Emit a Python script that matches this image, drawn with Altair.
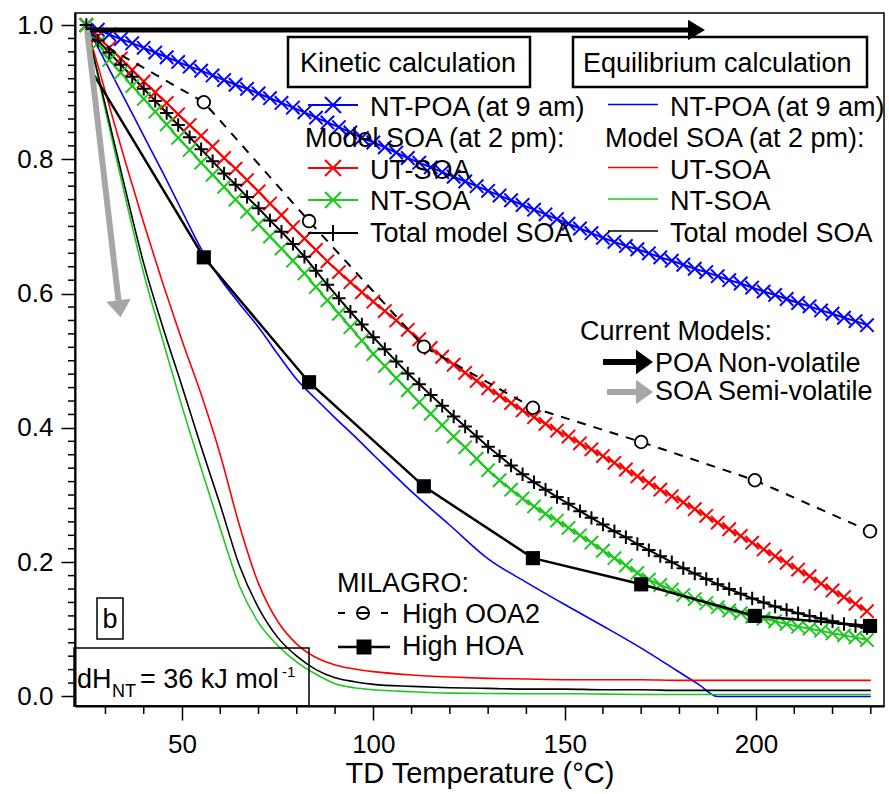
import altair as alt
import pandas as pd

FONT = "Liberation Sans"

# ---------------- data ----------------
T_KIN = [25, 28, 31, 34, 37, 40, 43, 46, 49, 52,
         55, 58, 61, 64, 67, 70, 73, 76, 79, 82,
         85, 88, 91, 94, 97, 100, 103, 106, 109, 112,
         115, 118, 121, 124, 127, 130, 133, 136, 139, 142,
         145, 148, 151, 154, 157, 160, 163, 166, 169, 172,
         175, 178, 181, 184, 187, 190, 193, 196, 199, 202,
         205, 208, 211, 214, 217, 220, 223, 226, 229]

KIN_NT_POA = [1.000, 0.993, 0.986, 0.979, 0.973, 0.966, 0.959, 0.952, 0.945, 0.938,
              0.932, 0.925, 0.918, 0.911, 0.905, 0.898, 0.891, 0.884, 0.877, 0.870,
              0.862, 0.855, 0.848, 0.840, 0.832, 0.825, 0.818, 0.810, 0.802, 0.795,
              0.788, 0.781, 0.774, 0.767, 0.760, 0.753, 0.746, 0.739, 0.732, 0.725,
              0.718, 0.711, 0.704, 0.697, 0.690, 0.683, 0.677, 0.671, 0.666, 0.660,
              0.654, 0.649, 0.643, 0.637, 0.632, 0.626, 0.620, 0.615, 0.609, 0.603,
              0.598, 0.592, 0.586, 0.581, 0.575, 0.570, 0.564, 0.559, 0.553]

KIN_UT_SOA = [1.000, 0.983, 0.966, 0.950, 0.933, 0.916, 0.900, 0.884, 0.867, 0.851,
              0.835, 0.819, 0.802, 0.786, 0.769, 0.752, 0.734, 0.717, 0.699, 0.682,
              0.665, 0.648, 0.632, 0.617, 0.602, 0.588, 0.574, 0.560, 0.546, 0.532,
              0.519, 0.506, 0.494, 0.482, 0.470, 0.459, 0.448, 0.437, 0.426, 0.416,
              0.406, 0.396, 0.387, 0.377, 0.368, 0.358, 0.348, 0.338, 0.328, 0.318,
              0.308, 0.298, 0.289, 0.279, 0.269, 0.259, 0.249, 0.239, 0.229, 0.219,
              0.209, 0.199, 0.189, 0.179, 0.168, 0.158, 0.148, 0.138, 0.127]

KIN_NT_SOA = [1.000, 0.973, 0.948, 0.929, 0.909, 0.890, 0.871, 0.852, 0.832, 0.814,
              0.795, 0.777, 0.759, 0.740, 0.722, 0.703, 0.685, 0.667, 0.649, 0.630,
              0.610, 0.590, 0.570, 0.550, 0.530, 0.510, 0.492, 0.474, 0.456, 0.438,
              0.421, 0.404, 0.387, 0.371, 0.354, 0.337, 0.322, 0.308, 0.295, 0.283,
              0.272, 0.262, 0.251, 0.240, 0.229, 0.217, 0.206, 0.195, 0.184, 0.174,
              0.166, 0.159, 0.151, 0.145, 0.139, 0.133, 0.128, 0.124, 0.119, 0.116,
              0.112, 0.108, 0.104, 0.101, 0.098, 0.094, 0.091, 0.088, 0.084]

KIN_TOTAL = [1.000, 0.977, 0.959, 0.941, 0.923, 0.905, 0.887, 0.869, 0.851, 0.833,
             0.815, 0.797, 0.779, 0.762, 0.744, 0.727, 0.709, 0.692, 0.674, 0.655,
             0.634, 0.613, 0.593, 0.573, 0.554, 0.535, 0.517, 0.499, 0.481, 0.465,
             0.449, 0.433, 0.417, 0.402, 0.387, 0.372, 0.358, 0.344, 0.331, 0.319,
             0.308, 0.297, 0.287, 0.276, 0.266, 0.256, 0.246, 0.237, 0.227, 0.218,
             0.209, 0.200, 0.191, 0.183, 0.175, 0.167, 0.160, 0.153, 0.146, 0.140,
             0.134, 0.129, 0.124, 0.120, 0.116, 0.112, 0.108, 0.105, 0.102]

T_EQ = [25, 30, 35, 40, 45, 50, 55, 60, 65, 70,
        75, 80, 85, 90, 95, 100, 110, 120, 130, 140,
        150, 160, 170, 180, 185, 190, 200, 210, 220, 230]

EQ_NT_POA = [1.0, 0.945, 0.89, 0.835, 0.78, 0.723, 0.667, 0.622, 0.585, 0.55,
             0.51, 0.472, 0.443, 0.415, 0.388, 0.36, 0.305, 0.255, 0.205, 0.17,
             0.137, 0.105, 0.072, 0.036, 0.018, 0.0, 0.0, 0.0, 0.0, 0.0]
EQ_UT_SOA = [1.0, 0.9, 0.8, 0.705, 0.615, 0.53, 0.45, 0.36, 0.255, 0.168,
             0.112, 0.078, 0.058, 0.047, 0.041, 0.037, 0.032, 0.029, 0.027, 0.026,
             0.025, 0.025, 0.025, 0.024, 0.024, 0.024, 0.024, 0.024, 0.024, 0.024]
EQ_NT_SOA = [1.0, 0.873, 0.748, 0.63, 0.53, 0.432, 0.34, 0.25, 0.165, 0.11,
             0.076, 0.051, 0.033, 0.019, 0.013, 0.01, 0.007, 0.005, 0.0045, 0.004,
             0.004, 0.0035, 0.003, 0.003, 0.003, 0.003, 0.003, 0.003, 0.003, 0.003]
EQ_TOTAL = [1.0, 0.88, 0.76, 0.645, 0.55, 0.462, 0.372, 0.285, 0.195, 0.132,
            0.088, 0.06, 0.04, 0.028, 0.022, 0.018, 0.015, 0.013, 0.012, 0.011,
            0.011, 0.010, 0.010, 0.009, 0.009, 0.009, 0.009, 0.009, 0.009, 0.009]

T_HOA = [26, 55.7, 83.2, 113.2, 141.7, 170, 199.7, 229.8]
HOA = [0.935, 0.654, 0.468, 0.313, 0.206, 0.167, 0.12, 0.105]
T_OOA2 = [26.5, 55.7, 83.2, 113.2, 141.7, 170, 199.7, 229.8]
OOA2 = [0.98, 0.885, 0.708, 0.521, 0.430, 0.379, 0.322, 0.246]

SERIES = ["NT-POA", "UT-SOA", "NT-SOA", "Total model SOA"]
COLORS = ["#0000ff", "#ff0000", "#1ec81e", "#000000"]

X_MAJOR = [50, 100, 150, 200]
X_MINOR = [30, 40, 60, 70, 80, 90, 110, 120, 130, 140, 160, 170, 180, 190, 210, 220, 230]
Y_MAJOR = [0.0, 0.2, 0.4, 0.6, 0.8, 1.0]
Y_MINOR = [round(i * 0.02, 2) for i in range(51) if i % 10 != 0]

# ---------------- styles / layout ----------------
X_PATH = "M-1,-1L1,1M-1,1L1,-1"
PLUS_PATH = "M-1,0L1,0M0,-1L0,1"
HEAD_RIGHT = "M-1,-1.2L1,0L-1,1.2Z"
HEAD_RIGHT_BIG = "M-1,-1.45L1,0L-1,1.45Z"
HEAD_DOWN = "M-1.45,-1L0,1L1.45,-1Z"
GRAY = "#a6a6a6"

W, H = 809, 693
OX, OY = 75, 13
XMIN, XMAX = 22.04, 233.45
YMIN, YMAX = -0.0142, 1.0179


def tx(xp):
    return XMIN + (xp - OX) * (XMAX - XMIN) / W


def ty(yp):
    return YMAX - (yp - OY) * (YMAX - YMIN) / H


def long_df(T, lists):
    rows = []
    for name, vals in zip(SERIES, lists):
        for t, v in zip(T, vals):
            rows.append({"T": t, "v": v, "s": name})
    return pd.DataFrame(rows)


kin = long_df(T_KIN, [KIN_NT_POA, KIN_UT_SOA, KIN_NT_SOA, KIN_TOTAL])
eq = long_df(T_EQ, [EQ_NT_POA, EQ_UT_SOA, EQ_NT_SOA, EQ_TOTAL])
hoa = pd.DataFrame({"T": T_HOA, "v": HOA})
ooa = pd.DataFrame({"T": T_OOA2, "v": OOA2})

xs = alt.Scale(domain=[XMIN, XMAX], nice=False, zero=False)
ys = alt.Scale(domain=[YMIN, YMAX], nice=False, zero=False)

X_AXIS = alt.Axis(values=X_MAJOR, tickSize=14, title="TD Temperature (°C)",
                  labelPadding=11, titlePadding=2)
Y_AXIS = alt.Axis(values=Y_MAJOR, format=".1f", tickSize=14, title="", labelPadding=8)


def XF(field):
    return alt.X(field, scale=xs, axis=X_AXIS)


def YF(field):
    return alt.Y(field, scale=ys, axis=Y_AXIS)


color = alt.Color("s:N", scale=alt.Scale(domain=SERIES, range=COLORS), legend=None)
X = XF("T:Q")
Y = YF("v:Q")
X2 = alt.X2("T2:Q")
Y2 = alt.Y2("v2:Q")

eq_lines = alt.Chart(eq).mark_line(strokeWidth=1.6, interpolate="monotone").encode(
    x=X, y=Y, color=color)
kin_lines = alt.Chart(kin).mark_line(strokeWidth=2).encode(x=X, y=Y, color=color)
kin_pts = alt.Chart(kin).mark_point(filled=False, size=180, strokeWidth=2, opacity=1).encode(
    x=X, y=Y, color=color,
    shape=alt.Shape("s:N", scale=alt.Scale(domain=SERIES,
                                           range=[X_PATH, X_PATH, X_PATH, PLUS_PATH]),
                    legend=None),
)
ooa_line = alt.Chart(ooa).mark_line(strokeWidth=2, color="black", strokeDash=[9, 8]).encode(x=X, y=Y)
ooa_pts = alt.Chart(ooa.iloc[1:]).mark_point(
    shape="circle", filled=True, fill="white", stroke="black", strokeWidth=1.8,
    size=160, opacity=1, fillOpacity=1).encode(x=X, y=Y)
hoa_line = alt.Chart(hoa).mark_line(strokeWidth=2.5, color="black").encode(x=X, y=Y)
hoa_pts = alt.Chart(hoa.iloc[1:]).mark_point(
    shape="square", filled=True, color="black", size=200, opacity=1).encode(x=X, y=Y)

# minor ticks of the axes
ymin_ticks = alt.Chart(pd.DataFrame({"v": Y_MINOR})).mark_rule(color="black", strokeWidth=1.5).encode(
    y=Y, x=alt.value(-7), x2=alt.value(0))
xmin_ticks = alt.Chart(pd.DataFrame({"T": X_MINOR})).mark_rule(color="black", strokeWidth=1.5).encode(
    x=X, y=alt.value(H), y2=alt.value(H + 8))

# model arrows
arr_black = pd.DataFrame({"T": [25.2], "v": [0.9926], "T2": [182.3], "v2": [0.9926]})
arr_gray = pd.DataFrame({"T": [25.2], "v": [0.9926], "T2": [33.4], "v2": [0.590]})
black_rule = alt.Chart(arr_black).mark_rule(strokeWidth=5, color="black").encode(x=X, y=Y, x2=X2, y2=Y2)
black_head = alt.Chart(pd.DataFrame({"T": [186.67], "v": [0.9926]})).mark_point(
    shape=HEAD_RIGHT, filled=True, color="black", size=289, opacity=1, xOffset=-8.5
).encode(x=X, y=Y)
gray_rule = alt.Chart(arr_gray).mark_rule(strokeWidth=6, color=GRAY).encode(x=X, y=Y, x2=X2, y2=Y2)
gray_head = alt.Chart(pd.DataFrame({"T": [33.93], "v": [0.565]})).mark_point(
    shape=HEAD_DOWN, filled=True, color=GRAY, size=289, opacity=1, angle=353.4,
    xOffset=-1, yOffset=-8.4
).encode(x=X, y=Y)

# ---------------- legend / annotation panels ----------------
texts = [
    ("Kinetic calculation", 300, 72, 27),
    ("Equilibrium calculation", 583, 72, 27),
    ("NT-POA (at 9 am)", 370, 115.5, 27),
    ("Model SOA (at 2 pm):", 305, 147, 27),
    ("UT-SOA", 370, 178.5, 27),
    ("NT-SOA", 370, 209.5, 27),
    ("Total model SOA", 370, 241.5, 27),
    ("NT-POA (at 9 am)", 670, 115.5, 27),
    ("Model SOA (at 2 pm):", 605, 147, 27),
    ("UT-SOA", 670, 178.5, 27),
    ("NT-SOA", 670, 209.5, 27),
    ("Total model SOA", 670, 241.5, 27),
    ("Current Models:", 580, 340, 27),
    ("POA Non-volatile", 655, 372, 27),
    ("SOA Semi-volatile", 655, 400, 27),
    ("MILAGRO:", 337, 592, 27),
    ("High OOA2", 402, 623, 27),
    ("High HOA", 402, 655, 27),
    ("b", 102.5, 628, 27),
    ("dH", 77, 688, 27),
    ("NT", 112, 697, 18),
    ("= 36 kJ mol", 140, 688, 27),
    ("-1", 282, 677, 15),
]
text_df = pd.DataFrame([{"t": t, "T": tx(x), "v": ty(y), "fs": f} for t, x, y, f in texts])
text_layer = alt.Chart(text_df).mark_text(align="left", baseline="alphabetic", font=FONT,
                                          color="black").encode(
    x=X, y=Y, text="t:N", size=alt.Size("fs:Q", scale=None, legend=None))

boxes = [(288, 530, 37, 87, 2.5), (573, 867, 37, 87, 2.5),
         (97, 123, 598, 639, 1.5), (74, 309, 648, 706, 1.5)]
box_df = pd.DataFrame([{"T": tx(a), "T2": tx(b), "v": ty(c), "v2": ty(d), "sw": w}
                       for a, b, c, d, w in boxes])
box_layer = alt.Chart(box_df).mark_rect(fillOpacity=0, stroke="black").encode(
    x=X, x2=X2, y=Y, y2=Y2,
    strokeWidth=alt.StrokeWidth("sw:Q", scale=None, legend=None))

kin_rows = [(105, COLORS[0], X_PATH), (168, COLORS[1], X_PATH),
            (200, COLORS[2], X_PATH), (233, COLORS[3], PLUS_PATH)]
eq_rows = [(104.5, COLORS[0]), (167.5, COLORS[1]), (199, COLORS[2]), (231, COLORS[3])]
leg_kin_df = pd.DataFrame([{"T": tx(308), "T2": tx(358), "Tm": tx(333), "v": ty(y),
                            "c": c, "sh": s} for y, c, s in kin_rows])
leg_eq_df = pd.DataFrame([{"T": tx(608), "T2": tx(658), "v": ty(y), "c": c}
                          for y, c in eq_rows])
rawcolor = alt.Color("c:N", scale=None, legend=None)
leg_kin_lines = alt.Chart(leg_kin_df).mark_rule(strokeWidth=2).encode(
    x=X, x2=X2, y=Y, color=rawcolor)
leg_kin_pts = alt.Chart(leg_kin_df).mark_point(filled=False, size=256, strokeWidth=2,
                                                opacity=1).encode(
    x=XF("Tm:Q"), y=Y, color=rawcolor,
    shape=alt.Shape("sh:N", scale=None, legend=None))
leg_eq_lines = alt.Chart(leg_eq_df).mark_rule(strokeWidth=1.6).encode(
    x=X, x2=X2, y=Y, color=rawcolor)

cm_df = pd.DataFrame([{"T": tx(603), "T2": tx(636), "Th": tx(653), "v": ty(362), "c": "black"},
                      {"T": tx(607), "T2": tx(636), "Th": tx(653), "v": ty(392), "c": GRAY}])
cm_rules = alt.Chart(cm_df).mark_rule(strokeWidth=6).encode(x=X, x2=X2, y=Y, color=rawcolor)
cm_heads = alt.Chart(cm_df).mark_point(shape=HEAD_RIGHT_BIG, filled=True, size=289,
                                       opacity=1, xOffset=-8.5).encode(
    x=XF("Th:Q"), y=Y, color=rawcolor)

mil_ooa = pd.DataFrame({"T": [tx(338)], "T2": [tx(388)], "Tc": [tx(363)], "v": [ty(613)]})
mil_hoa = pd.DataFrame({"T": [tx(338)], "T2": [tx(390)], "Tc": [tx(364)], "v": [ty(647)]})
mil_ooa_rule = alt.Chart(mil_ooa).mark_rule(strokeWidth=2, color="black",
                                            strokeDash=[7, 11, 14, 11, 7]).encode(
    x=X, x2=X2, y=Y)
mil_ooa_pt = alt.Chart(mil_ooa).mark_point(shape="circle", filled=False, color="black",
                                           size=144, strokeWidth=1.8, opacity=1).encode(
    x=XF("Tc:Q"), y=Y)
mil_hoa_rule = alt.Chart(mil_hoa).mark_rule(strokeWidth=2.5, color="black").encode(
    x=X, x2=X2, y=Y)
mil_hoa_pt = alt.Chart(mil_hoa).mark_point(shape="square", filled=True, color="black",
                                           size=225, opacity=1).encode(
    x=XF("Tc:Q"), y=Y)

chart = alt.layer(
    eq_lines, ymin_ticks, xmin_ticks,
    kin_lines, kin_pts, ooa_line, ooa_pts, hoa_line, hoa_pts,
    black_rule, black_head, gray_rule, gray_head,
    box_layer, leg_kin_lines, leg_kin_pts, leg_eq_lines, cm_rules, cm_heads,
    mil_ooa_rule, mil_ooa_pt, mil_hoa_rule, mil_hoa_pt, text_layer,
).properties(
    width=W, height=H,
    padding={"left": 75, "top": 13, "right": 5, "bottom": 88},
    autosize=alt.AutoSizeParams(type="none"),
).configure_axis(
    labelFont=FONT, titleFont=FONT, labelFontSize=26, titleFontSize=29,
    labelColor="black", titleColor="black", domainColor="black", tickColor="black",
    domainWidth=2, tickWidth=1.5, titleFontWeight="normal", grid=False,
).configure_view(stroke="black", strokeWidth=1.5)

chart.save("out.html", embed_options={"renderer": "svg", "actions": False})
